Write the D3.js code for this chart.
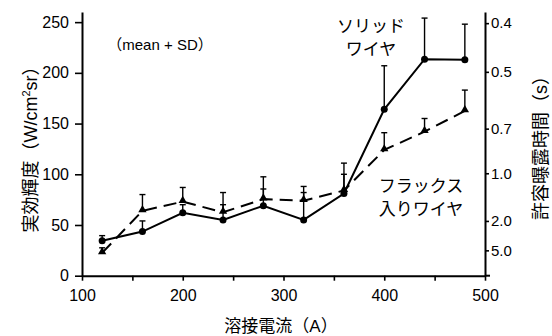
<!DOCTYPE html>
<html><head><meta charset="utf-8">
<script src="https://cdn.jsdelivr.net/npm/d3@7"></script>
<style>
html,body{margin:0;padding:0;background:#fff;}
svg{display:block;}
text{font-family:"Liberation Sans","Noto Sans CJK JP",Arial,sans-serif;fill:#000;}
</style></head>
<body>
<svg id="chart" width="552" height="336"></svg>
<script>
// ---- data ----
const currents = [120,160,200,240,280,320,360,400,440,480];
const solidMean = [34.5,43.5,62,55,69,55,81,164,213.5,213];
const solidSD   = [5,10.5,8,15,16.5,27,30,43,40.5,35];
const fluxMean  = [22.5,64,73,62.5,75.5,74,84,124,142,162.5];
const fluxSD    = [5,16,14,19.5,22,14,16,17,13,20.5];
const xTicks = [100,150,200,250,300,350,400,450,500];
const yTicks = [0,50,100,150,200,250];
const rightTickLabels = ["0.4","0.5","0.7","1.0","2.0","5.0"];
const rightTickRadiance = [249,201,145,101,54,25];

const svg = d3.select("#chart");
const x = d3.scaleLinear().domain([100,500]).range([82,485]);
const y = d3.scaleLinear().domain([0,260]).range([275.7,12]);

// axes
const gx = svg.append("g").attr("transform","translate(0,"+y(0)+")")
  .call(d3.axisBottom(x).tickValues(xTicks).tickSize(5).tickSizeOuter(0).tickPadding(9)
    .tickFormat(d => d % 100 === 0 ? d : ""));
const gy = svg.append("g").attr("transform","translate("+x(100)+",0)")
  .call(d3.axisLeft(y).tickValues(yTicks).tickSize(7).tickSizeOuter(0).tickPadding(6));
const gr = svg.append("g").attr("transform","translate("+x(500)+",0)")
  .call(d3.axisRight(y).tickValues(rightTickRadiance).tickSize(4).tickSizeOuter(0).tickPadding(2)
    .tickFormat((d,i) => rightTickLabels[i]));
[gx,gy,gr].forEach(g => {
  g.select(".domain").attr("stroke","#000").attr("stroke-width",2);
  g.selectAll(".tick line").attr("stroke","#000").attr("stroke-width",1.6);
  g.selectAll(".tick text").attr("fill","#000")
    .style("font-family",'"Liberation Sans",Arial,sans-serif');
});
gx.selectAll(".tick text").style("font-size","16px");
gy.selectAll(".tick text").style("font-size","16px");
gr.selectAll(".tick text").style("font-size","15px");
// extend bottom axis slightly past right axis
svg.append("line").attr("x1",x(500)).attr("x2",x(500)+5).attr("y1",y(0)).attr("y2",y(0))
  .attr("stroke","#000").attr("stroke-width",2);

// error bars
function errorBars(means, sds){
  const g = svg.append("g").attr("stroke","#000").attr("stroke-width",1.4);
  currents.forEach((c,i) => {
    const px = x(c), top = y(means[i]+sds[i]);
    g.append("line").attr("x1",px).attr("x2",px).attr("y1",y(means[i])).attr("y2",top);
    g.append("line").attr("x1",px-3).attr("x2",px+3).attr("y1",top).attr("y2",top);
  });
}
errorBars(fluxMean, fluxSD);
errorBars(solidMean, solidSD);

const line = d3.line().x((d,i)=>x(currents[i])).y(d=>y(d));
svg.append("path").datum(fluxMean).attr("d",line).attr("fill","none")
  .attr("stroke","#000").attr("stroke-width",2).attr("stroke-dasharray","13,7");
svg.append("path").datum(solidMean).attr("d",line).attr("fill","none")
  .attr("stroke","#000").attr("stroke-width",2);

const tri = d3.symbol().type(d3.symbolTriangle).size(30);
svg.append("g").selectAll("path").data(fluxMean).join("path")
  .attr("d",tri).attr("transform",(d,i)=>"translate("+x(currents[i])+","+(y(d)-1)+")")
  .attr("fill","#000");
svg.append("g").selectAll("circle").data(solidMean).join("circle")
  .attr("cx",(d,i)=>x(currents[i])).attr("cy",d=>y(d)).attr("r",3.5).attr("fill","#000");

// labels
svg.append("text").attr("x",281).attr("y",332).attr("text-anchor","middle")
  .style("font-size","17px").text("溶接電流（A）");
const yl = svg.append("text").attr("transform","translate(37,145) rotate(-90)")
  .attr("text-anchor","middle").style("font-size","18px");
yl.append("tspan").text("実効輝度（W/cm");
yl.append("tspan").attr("dy",-7).style("font-size","11px").text("2");
yl.append("tspan").attr("dy",7).text("sr）");
svg.append("text").attr("transform","translate(547,143.5) rotate(-90)")
  .attr("text-anchor","middle").style("font-size","18px").text("許容曝露時間（s）");
svg.append("text").attr("x",160).attr("y",50).attr("text-anchor","middle")
  .style("font-size","15px").text("（mean + SD）");
svg.append("text").attr("x",371).attr("y",32).attr("text-anchor","middle").style("font-size","17px").text("ソリッド");
svg.append("text").attr("x",371).attr("y",55).attr("text-anchor","middle").style("font-size","17px").text("ワイヤ");
svg.append("text").attr("x",421).attr("y",192).attr("text-anchor","middle").style("font-size","17px").text("フラックス");
svg.append("text").attr("x",421).attr("y",215).attr("text-anchor","middle").style("font-size","17px").text("入りワイヤ");
</script>
</body></html>
